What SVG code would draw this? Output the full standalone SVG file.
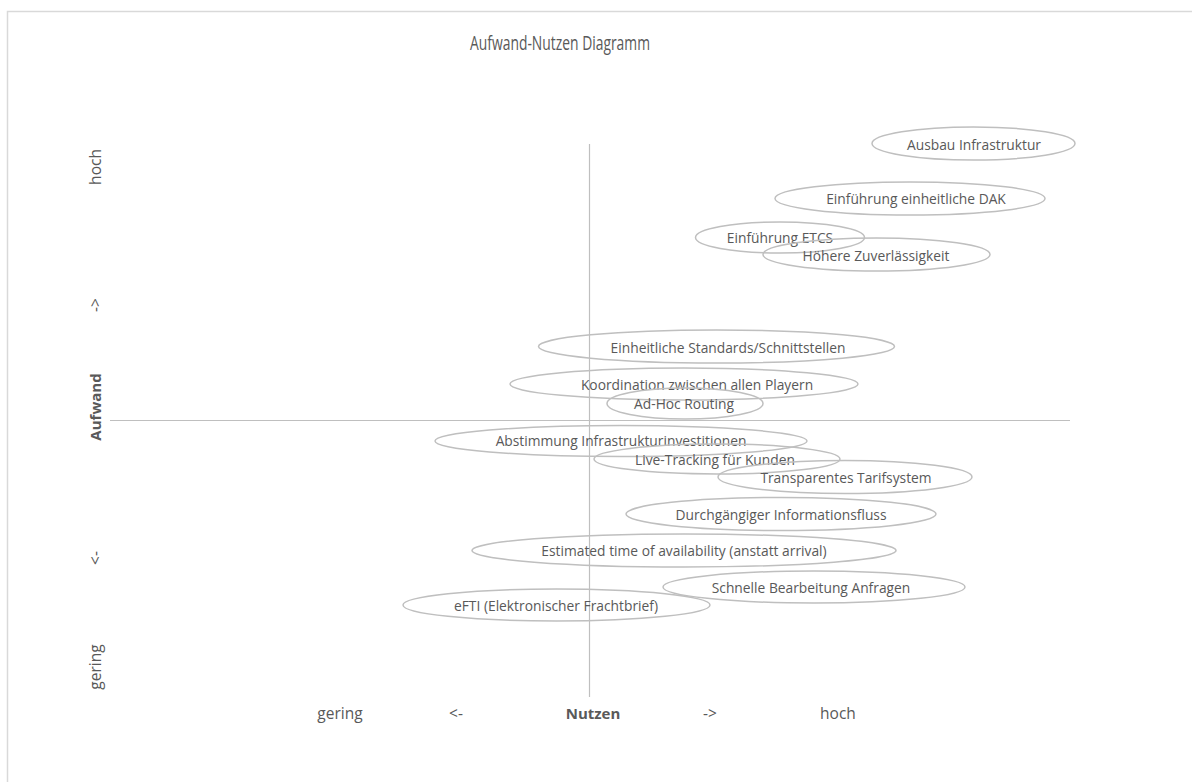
<svg xmlns="http://www.w3.org/2000/svg" width="1192" height="782" viewBox="0 0 1192 782">
  <style>
    .lbl { font-family: "Open Sans", "Liberation Sans", sans-serif; font-size: 13.8px; fill: #595959; text-anchor: middle; dominant-baseline: central; }
    .axt { font-family: "Open Sans", "Liberation Sans", sans-serif; font-size: 15.5px; fill: #595959; text-anchor: middle; dominant-baseline: central; }
    .bold { font-weight: bold; font-size: 15px; }
    .title { font-family: "Open Sans", "Liberation Sans", sans-serif; font-size: 20px; fill: #595959; text-anchor: middle; dominant-baseline: central; }
    .bubble { fill: none; stroke: #bfbfbf; stroke-width: 1.5; }
    .axis { stroke: #bfbfbf; stroke-width: 1.2; }
  </style>
  <rect x="0" y="0" width="1192" height="782" fill="#ffffff"/>
  <!-- chart frame -->
  <path d="M7.5 782 V11.5 H1192" fill="none" stroke="#d9d9d9" stroke-width="1.5"/>
  <text class="title" x="560" y="42" textLength="180" lengthAdjust="spacingAndGlyphs">Aufwand-Nutzen Diagramm</text>

  <!-- axes -->
  <g id="connectors">
    <line class="axis" x1="589.5" y1="144" x2="589.5" y2="697"/>
    <line class="axis" x1="110" y1="420.5" x2="1070" y2="420.5"/>
  </g>

  <!-- axis captions -->
  <g id="y-axis-labels">
    <text class="axt" transform="translate(95,167) rotate(-90)">hoch</text>
    <text class="axt" transform="translate(95,305) rotate(-90)">-&gt;</text>
    <text class="axt bold" transform="translate(95,407) rotate(-90)">Aufwand</text>
    <text class="axt" transform="translate(95,558) rotate(-90)">&lt;-</text>
    <text class="axt" transform="translate(95,667) rotate(-90)">gering</text>
  </g>
  <g id="x-axis-labels">
    <text class="axt" x="340" y="713">gering</text>
    <text class="axt" x="456" y="713">&lt;-</text>
    <text class="axt bold" x="593" y="713">Nutzen</text>
    <text class="axt" x="710" y="713">-&gt;</text>
    <text class="axt" x="838" y="713">hoch</text>
  </g>

  <!-- measures -->
  <g id="ausbau-infrastruktur">
    <ellipse class="bubble" cx="973.5" cy="143.5" rx="101.5" ry="16.5"/>
    <text class="lbl" x="974" y="144">Ausbau Infrastruktur</text>
  </g>
  <g id="einfuehrung-dak">
    <ellipse class="bubble" cx="910" cy="198.5" rx="135" ry="16.5"/>
    <text class="lbl" x="916" y="198.5">Einführung einheitliche  DAK</text>
  </g>
  <g id="einfuehrung-etcs">
    <ellipse class="bubble" cx="780" cy="237.5" rx="84.5" ry="15.5"/>
    <text class="lbl" x="780" y="237">Einführung ETCS</text>
  </g>
  <g id="hoehere-zuverlaessigkeit">
    <ellipse class="bubble" cx="876.5" cy="254.5" rx="113.5" ry="16.5"/>
    <text class="lbl" x="876" y="255">Höhere Zuverlässigkeit</text>
  </g>
  <g id="einheitliche-standards">
    <ellipse class="bubble" cx="716.5" cy="346.5" rx="178" ry="16.5"/>
    <text class="lbl" x="728" y="347">Einheitliche  Standards/Schnittstellen</text>
  </g>
  <g id="koordination">
    <ellipse class="bubble" cx="684" cy="384" rx="174" ry="16"/>
    <text class="lbl" x="697" y="384">Koordination zwischen allen Playern</text>
  </g>
  <g id="ad-hoc-routing">
    <ellipse class="bubble" cx="685" cy="403.5" rx="78" ry="15.5"/>
    <text class="lbl" x="684" y="403">Ad-Hoc Routing</text>
  </g>
  <g id="abstimmung-infrastruktur">
    <ellipse class="bubble" cx="621" cy="441" rx="186" ry="15.5"/>
    <text class="lbl" x="621" y="440">Abstimmung Infrastrukturinvestitionen</text>
  </g>
  <g id="live-tracking">
    <ellipse class="bubble" cx="717" cy="459" rx="123" ry="15"/>
    <text class="lbl" x="715" y="459">Live-Tracking für Kunden</text>
  </g>
  <g id="tarifsystem">
    <ellipse class="bubble" cx="845" cy="477" rx="127" ry="16.5"/>
    <text class="lbl" x="846" y="477">Transparentes Tarifsystem</text>
  </g>
  <g id="informationsfluss">
    <ellipse class="bubble" cx="781" cy="514" rx="155" ry="16.5"/>
    <text class="lbl" x="781" y="514">Durchgängiger Informationsfluss</text>
  </g>
  <g id="eta">
    <ellipse class="bubble" cx="684" cy="550.5" rx="212" ry="16.5"/>
    <text class="lbl" x="684" y="550">Estimated time of availability (anstatt arrival)</text>
  </g>
  <g id="schnelle-bearbeitung">
    <ellipse class="bubble" cx="814" cy="587" rx="151" ry="16"/>
    <text class="lbl" x="811" y="587">Schnelle Bearbeitung Anfragen</text>
  </g>
  <g id="efti">
    <ellipse class="bubble" cx="556.5" cy="605" rx="153.5" ry="16"/>
    <text class="lbl" x="556" y="605">eFTI (Elektronischer Frachtbrief)</text>
  </g>
</svg>
